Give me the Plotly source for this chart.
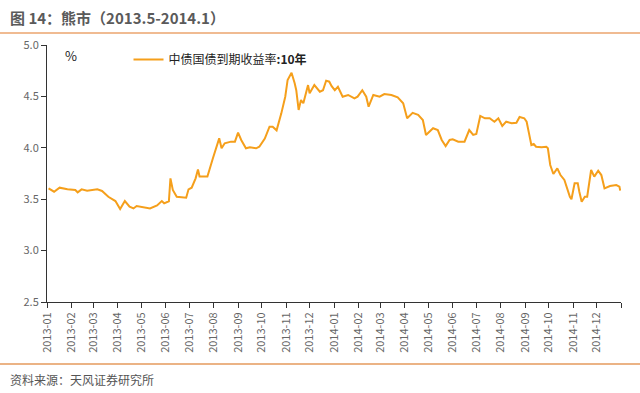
import plotly.graph_objects as go

# ---- data ----
dates = [
    "2013-01-03", "2013-01-10", "2013-01-17", "2013-01-27", "2013-02-06", "2013-02-09",
    "2013-02-14", "2013-02-21", "2013-03-06", "2013-03-12", "2013-03-20", "2013-03-29",
    "2013-04-04", "2013-04-10", "2013-04-16", "2013-04-21", "2013-04-25", "2013-05-04",
    "2013-05-12", "2013-05-21", "2013-05-27", "2013-05-30", "2013-06-05", "2013-06-07",
    "2013-06-10", "2013-06-15", "2013-06-20", "2013-06-24", "2013-06-27", "2013-06-30",
    "2013-07-04", "2013-07-09", "2013-07-12", "2013-07-14", "2013-07-19", "2013-07-24",
    "2013-07-31", "2013-08-08", "2013-08-11", "2013-08-15", "2013-08-23", "2013-08-28",
    "2013-09-01", "2013-09-05", "2013-09-11", "2013-09-16", "2013-09-24", "2013-09-28",
    "2013-10-05", "2013-10-11", "2013-10-15", "2013-10-20", "2013-10-26", "2013-10-31",
    "2013-11-03", "2013-11-08", "2013-11-12", "2013-11-14", "2013-11-17", "2013-11-20",
    "2013-11-23", "2013-11-29", "2013-12-01", "2013-12-07", "2013-12-14", "2013-12-18",
    "2013-12-22", "2013-12-26", "2013-12-29", "2014-01-02", "2014-01-06", "2014-01-12",
    "2014-01-19", "2014-01-27", "2014-01-31", "2014-02-06", "2014-02-11", "2014-02-14",
    "2014-02-20", "2014-02-28", "2014-03-06", "2014-03-15", "2014-03-23", "2014-03-30",
    "2014-04-04", "2014-04-11", "2014-04-18", "2014-04-24", "2014-04-28", "2014-05-02",
    "2014-05-07", "2014-05-13", "2014-05-18", "2014-05-23", "2014-05-28", "2014-06-01",
    "2014-06-08", "2014-06-16", "2014-06-22", "2014-06-27", "2014-07-01", "2014-07-06",
    "2014-07-12", "2014-07-18", "2014-07-24", "2014-07-29", "2014-08-03", "2014-08-08",
    "2014-08-15", "2014-08-21", "2014-08-25", "2014-08-31", "2014-09-03", "2014-09-06",
    "2014-09-09", "2014-09-12", "2014-09-15", "2014-09-22", "2014-09-28", "2014-09-30",
    "2014-10-03", "2014-10-07", "2014-10-12", "2014-10-16", "2014-10-21", "2014-10-28",
    "2014-10-30", "2014-11-03", "2014-11-07", "2014-11-09", "2014-11-12", "2014-11-16",
    "2014-11-19", "2014-11-24", "2014-11-28", "2014-12-03", "2014-12-07", "2014-12-11",
    "2014-12-18", "2014-12-26", "2014-12-30", "2014-12-31",
]
yield_10y = [
    3.606, 3.573, 3.612, 3.596, 3.590, 3.567,
    3.596, 3.583, 3.596, 3.580, 3.524, 3.482,
    3.405, 3.482, 3.427, 3.410, 3.434, 3.420,
    3.410, 3.440, 3.482, 3.460, 3.480, 3.703,
    3.590, 3.524, 3.520, 3.524, 3.515, 3.596,
    3.612, 3.703, 3.790, 3.720, 3.720, 3.720,
    3.898, 4.092, 3.995, 4.044, 4.060, 4.060,
    4.147, 4.076, 3.995, 4.005, 3.995, 4.010,
    4.090, 4.205, 4.205, 4.170, 4.335, 4.497,
    4.660, 4.730, 4.627, 4.560, 4.368, 4.465,
    4.433, 4.610, 4.530, 4.610, 4.546, 4.560,
    4.653, 4.643, 4.600, 4.560, 4.594, 4.497,
    4.514, 4.480, 4.497, 4.560, 4.497, 4.400,
    4.514, 4.497, 4.523, 4.514, 4.490, 4.433,
    4.287, 4.340, 4.320, 4.270, 4.125, 4.157,
    4.190, 4.173, 4.076, 4.017, 4.076, 4.083,
    4.060, 4.060, 4.173, 4.125, 4.134, 4.310,
    4.287, 4.287, 4.254, 4.287, 4.212, 4.254,
    4.238, 4.244, 4.300, 4.287, 4.254, 4.140,
    4.027, 4.037, 4.010, 4.005, 4.010, 3.995,
    3.833, 3.745, 3.800, 3.735, 3.687, 3.524,
    3.500, 3.655, 3.655, 3.573, 3.476, 3.524,
    3.524, 3.784, 3.720, 3.777, 3.735, 3.606,
    3.628, 3.638, 3.622, 3.583,
]
tick_vals = [
    "2013-01-01", "2013-02-01", "2013-03-01", "2013-04-01", "2013-05-01", "2013-06-01",
    "2013-07-01", "2013-08-01", "2013-09-01", "2013-10-01", "2013-11-01", "2013-12-01",
    "2014-01-01", "2014-02-01", "2014-03-01", "2014-04-01", "2014-05-01", "2014-06-01",
    "2014-07-01", "2014-08-01", "2014-09-01", "2014-10-01", "2014-11-01", "2014-12-01",
    "2015-01-01",
]
tick_text = [
    "2013-01", "2013-02", "2013-03", "2013-04", "2013-05", "2013-06",
    "2013-07", "2013-08", "2013-09", "2013-10", "2013-11", "2013-12",
    "2014-01", "2014-02", "2014-03", "2014-04", "2014-05", "2014-06",
    "2014-07", "2014-08", "2014-09", "2014-10", "2014-11", "2014-12",
    "",
]
series_name = "中债国债到期收益率<b>:10年</b>"
title_text = "<b>图 14：熊市（2013.5-2014.1）</b>"
source_text = "资料来源：天风证券研究所"

FONT = "Noto Sans CJK SC"
ORANGE = "#F59F1B"

fig = go.Figure()
fig.add_trace(go.Scatter(
    x=dates, y=yield_10y, mode="lines", name=series_name,
    line=dict(color=ORANGE, width=2),
))

fig.update_layout(
    width=640, height=393,
    margin=dict(l=47, r=19, t=45, b=91),
    paper_bgcolor="white", plot_bgcolor="white",
    font=dict(family=FONT, size=11, color="#666666"),
    showlegend=True,
    legend=dict(
        x=0.142, y=1.0, xanchor="left", yanchor="top",
        bgcolor="rgba(0,0,0,0)",
        font=dict(family=FONT, size=12, color="#222222"),
        itemwidth=30,
    ),
    xaxis=dict(
        type="date",
        range=["2013-01-01", "2015-01-01"],
        tickmode="array", tickvals=tick_vals, ticktext=tick_text,
        tickangle=-90,
        ticks="outside", ticklen=5, tickcolor="#333333",
        showline=True, linecolor="#333333", linewidth=1,
        showgrid=False, zeroline=False, automargin=False,
        tickfont=dict(family=FONT, size=11, color="#666666"),
    ),
    yaxis=dict(
        range=[2.5, 5.0], dtick=0.5, tickformat=".1f",
        ticks="outside", ticklen=5, tickcolor="#333333",
        showline=True, linecolor="#333333", linewidth=1,
        showgrid=False, zeroline=False, automargin=False,
        tickfont=dict(family=FONT, size=11, color="#666666"),
    ),
    shapes=[
        dict(type="line", xref="paper", yref="paper", x0=-47/574, x1=(640-47)/574,
             y0=(393-91-33)/257, y1=(393-91-33)/257,
             line=dict(color="#EBA46E", width=1.5)),
        dict(type="line", xref="paper", yref="paper", x0=-47/574, x1=(640-47)/574,
             y0=(393-91-364)/257, y1=(393-91-364)/257,
             line=dict(color="#E59A5C", width=1.5)),
    ],
    annotations=[
        dict(text=title_text, xref="paper", yref="paper",
             x=-39/574, y=(302-18)/257, xanchor="left", yanchor="middle",
             showarrow=False, font=dict(family=FONT, size=15, color="#5a5a5a")),
        dict(text="%", xref="paper", yref="paper",
             x=(63-47)/574, y=(302-56)/257, xanchor="left", yanchor="middle",
             showarrow=False, font=dict(family=FONT, size=13, color="#222222")),
        dict(text=source_text, xref="paper", yref="paper",
             x=-39/574, y=(302-379)/257, xanchor="left", yanchor="middle",
             showarrow=False, font=dict(family=FONT, size=12, color="#555555")),
    ],
)

fig.write_html(
    "out.html",
    config={"displayModeBar": False},
    post_script="document.body.style.margin='0';document.body.style.padding='0';",
)
